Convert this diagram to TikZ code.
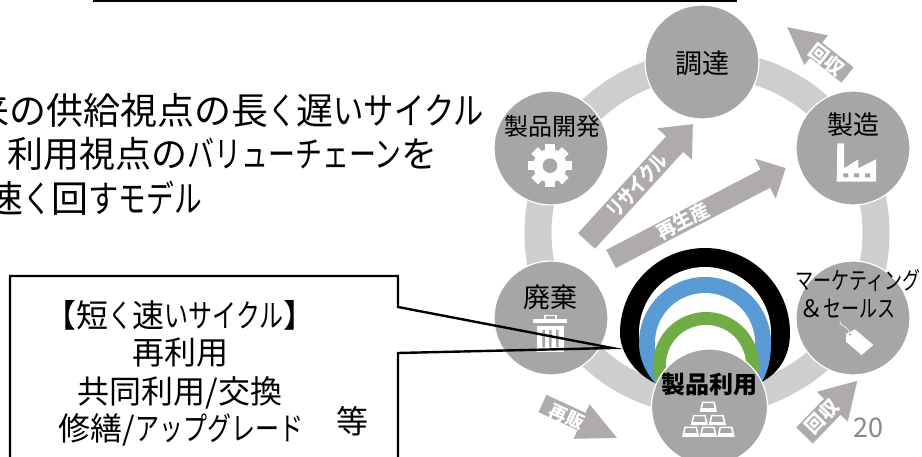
\documentclass[tikz,border=0pt]{standalone}
\usepackage{fontspec}
\usepackage{graphicx}
\setmainfont{Noto Sans CJK JP}
\definecolor{ringc}{HTML}{CFCDCD}
\definecolor{circc}{HTML}{A6A6A6}
\definecolor{arrc}{HTML}{AFABAB}
\definecolor{numc}{HTML}{898989}
\definecolor{blueband}{HTML}{5B9BD5}
\definecolor{greenband}{HTML}{70AD47}
\newcommand\fz[1]{\fontsize{#1}{#1}\selectfont}
\newcommand\kn[1]{\scalebox{.75}[1]{#1}}
\newcommand\kw[1]{\scalebox{.82}[1]{#1}}
\newcommand\garrow[7]{%
  \begin{scope}[shift={(#1,#2)},rotate=#3]
    \fill[arrc] (0,-#5/2) -- (#4-#7,-#5/2) -- (#4-#7,-#6/2) -- (#4,0) -- (#4-#7,#6/2) -- (#4-#7,#5/2) -- (0,#5/2) -- cycle;
  \end{scope}}
\newcommand\dome[4]{\fill[#4] (#1,#2) ++(150:#3) arc[start angle=150,end angle=390,radius=#3] -- cycle;}
\tikzset{
  stage/.style={circle,fill=circc,draw=white,line width=1.2pt,minimum size=114pt,inner sep=0pt},
  lbl/.style={inner sep=0pt,text=black},
  arrlbl/.style={inner sep=0pt,text=white,font=\bfseries\fz{#1}},
  zoomtop/.style={shift={(480,0)},x=.33333pt,y=-.33333pt},
  zoombot/.style={shift={(480,230)},x=.33333pt,y=-.33333pt},
}
\begin{document}
\begin{tikzpicture}[x=1pt,y=-1pt]
\useasboundingbox (0,0) rectangle (922,457);
\clip (0,0) rectangle (922,457);
\fill[white] (0,0) rectangle (922,457);
% top rule
\draw[black,line width=2.2pt] (93,0.5) -- (737,0.5);
% ring
\draw[ringc,line width=27pt] (707,233) circle[radius=169];
% stages
\node[stage] (procure) at (702,62) {};
\node[stage] (develop) at (551,148) {};
\node[stage] (make) at (853,148) {};
\node[stage] (waste) at (551,318) {};
\node[stage] (market) at (853,318) {};
% domes
\fill[black] (655,383) .. controls (632,372) and (620,350) .. (620,333) arc[start angle=180,end angle=360,radius=85] .. controls (790,355) and (780,375) .. (755,385) -- cycle;
\dome{705}{333}{66}{white}
\fill[blueband] (656,384) .. controls (645,372) and (639,358) .. (639,343) arc[start angle=180,end angle=360,radius=66] .. controls (771,360) and (768,372) .. (760,385) -- cycle;
\dome{705}{343}{50}{white}
\dome{706}{365}{53}{greenband}
\dome{706}{365}{40}{white}
\node[stage,minimum size=116pt] (use) at (709.5,407) {};
% arrows
\garrow{847.5}{75}{141.6}{77}{19.4}{38}{37}
\garrow{586.5}{241}{47.7}{158}{23}{47}{27}
\garrow{611}{259}{27.5}{197}{20.6}{45}{23}
\garrow{542.5}{403.5}{-24.8}{82}{19}{38}{39}
\garrow{804.5}{435.5}{46}{76}{23}{43}{36}
\node[arrlbl=19,rotate=-38.4] (a1) at (827,60) {回収};
\node[arrlbl=21,rotate=47.7] (a2) at (637,185.5) {\kn{リサイクル}};
\node[arrlbl=19,rotate=27.5] (a3) at (683,221) {再生産};
\node[arrlbl=18,rotate=-24.8] (a4) at (567,417) {再販};
\node[arrlbl=19,rotate=46] (a5) at (822,417) {回収};
% labels
\node[lbl,font=\fz{27}] (t1) at (702,63) {調達};
\node[lbl,font=\fz{24}] (t2) at (552,126) {製品開発};
\node[lbl,font=\fz{26}] (t3) at (853,125) {製造};
\node[lbl,font=\fz{27}] (t4) at (550,297) {廃棄};
\node[lbl,font=\fz{24}] (t5) at (858,280) {\kn{マーケティング}};
\node[lbl,font=\fz{24}] (t6) at (847,309) {＆\kn{セールス}};
\node[lbl,font=\bfseries\fz{24}] (t7) at (709,384) {製品利用};
% gear
\begin{scope}[zoomtop]
  \fill[white] (210,497) circle[radius=50];
  \foreach \a in {0,45,...,315}{
    \fill[white,rotate around={\a:(210,497)}] (196,432) rectangle (224,470);
  }
  \fill[circc] (210,497) circle[radius=22];
  % factory
  \fill[white] (1070,545) -- (1072,430) -- (1092,430) -- (1092,505) -- (1135,478) -- (1135,505) -- (1188,478) -- (1188,545) -- cycle;
  \fill[circc] (1090,520) rectangle (1105,532) (1122,520) rectangle (1137,532) (1155,520) rectangle (1170,532);
\end{scope}
\begin{scope}[zoombot]
  % trash
  \draw[white,line width=1.2pt] (195,270) -- (195,256) -- (228,256) -- (228,270);
  \fill[white] (160,268) rectangle (262,280);
  \fill[white] (172,288) rectangle (252,366);
  \fill[circc] (187,300) rectangle (195,352) (207,300) rectangle (215,352) (228,300) rectangle (236,352);
  % tag
  \draw[white,line width=.6pt] (1080,272) .. controls (1080,295) and (1100,280) .. (1110,312);
  \fill[white] (1098,312) -- (1125,298) -- (1180,345) -- (1145,375) -- (1098,335) -- cycle;
  \fill[circc] (1110,314) circle[radius=4];
  % ingots
  \foreach \cx/\yy in {685/515,658/555,712/555,632/590,685/590,738/590}{
    \draw[white,line width=1.6pt] (\cx-17,\yy+2) -- (\cx+17,\yy+2) -- (\cx+23,\yy+28) -- (\cx-23,\yy+28) -- cycle;
    \fill[white] (\cx-22,\yy+20) rectangle (\cx+22,\yy+30);
  }
\end{scope}
% left text
\node[lbl,font=\fz{37},anchor=base east] (m1) at (484,125) {来の供給視点の長\kn{く}遅\kw{いサイクル}};
\node[lbl,font=\fz{36},anchor=base east] (m2) at (438,168) {利用視点の\kn{バリューチェーン}を};
\node[lbl,font=\fz{37},anchor=base east] (m3) at (202,213) {速\kn{く}回\kw{す}\kn{モデル}};
% callout
\coordinate (tip) at (612,348);
\draw[black,line width=2.4pt,line join=miter] (10,470) -- (10,276) -- (398,276) -- (398,307) -- (tip) -- (398,353) -- (398,470);
\node[lbl,font=\fz{32},anchor=base] (c1) at (180,327) {【短\kn{く}速\kn{いサイクル}】};
\node[lbl,font=\fz{32},anchor=base] (c2) at (180,364) {再利用};
\node[lbl,font=\fz{32},anchor=base] (c3) at (180,403) {共同利用/交換};
\node[lbl,font=\fz{32},anchor=base] (c4) at (181,440) {修繕/\kn{アップグレード}};
\node[lbl,font=\fz{32},anchor=base] (c5) at (352,433) {等};
\node[lbl,font=\fz{27},anchor=base,text=numc] (pg) at (868,437) {20};
\end{tikzpicture}
\end{document}
